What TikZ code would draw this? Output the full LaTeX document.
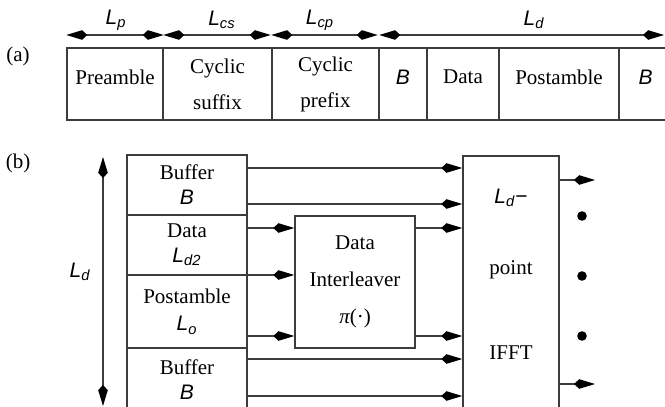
\documentclass[tikz,border=0pt]{standalone}
\usepackage{fontspec}
\setmainfont{Liberation Serif}
\setsansfont{Liberation Sans}
\usetikzlibrary{arrows.meta,positioning}
\definecolor{ink}{HTML}{3C3C3C}
\newcommand{\symlen}[2]{\textsf{\itshape #1\textsubscript{#2}}}
\tikzset{
  txt/.style={font=\fontsize{10.5}{12.4}\selectfont, inner sep=0pt, align=center},
  cellbox/.style={
    txt,
    draw=ink,
    line width=0.7pt,
    minimum height=36pt
  },
  onecell/.style={cellbox, text depth=7pt},
  blockbox/.style={
    txt,
    draw=ink,
    line width=0.7pt,
    minimum width=60pt
  },
  kitetip/.tip={Kite[length=10.5pt,width=4.8pt,inset=2.6pt,color=black]},
  sig/.style={-kitetip, draw=ink, line width=0.7pt},
  dimline/.style={kitetip-kitetip, draw=ink, line width=0.7pt},
  dot/.style={circle, fill=black, inner sep=0pt, minimum size=4.8pt}
}

\begin{document}
\begin{tikzpicture}[x=0.5pt,y=-0.5pt]
  \useasboundingbox (0,0) rectangle (665,407);
  \clip (0,0) rectangle (665,407);

  % (a) frame layout
  \node[txt] (tagA) at (18,56) {(a)};
  \node[onecell, minimum width=48pt]   (pre)  at (115,84)   {Preamble};
  \node[cellbox, minimum width=54.5pt] (csuf) at (217.5,84) {Cyclic\\[5.6pt]suffix};
  \node[cellbox, minimum width=53.5pt] (cpre) at (325.5,84) {Cyclic\\[5.6pt]prefix};
  \node[onecell, minimum width=24pt]   (bufa) at (403,84)   {\textsf{\itshape B}};
  \node[onecell, minimum width=36pt]   (dat)  at (463,84)   {Data};
  \node[onecell, minimum width=60pt]   (post) at (559,84)   {Postamble};
  \node[onecell, minimum width=26.5pt] (bufz) at (645.5,84) {\textsf{\itshape B}};

  \coordinate (ldend) at (664,35);
  \draw[dimline] (pre.west |- 0,35) -- (pre.east |- 0,35);
  \draw[dimline] ([xshift=0.5pt]csuf.west |- 0,35) -- ([xshift=-1pt]csuf.east |- 0,35);
  \draw[dimline] (cpre.west |- 0,35) -- ([xshift=-1pt]cpre.east |- 0,35);
  \draw[dimline] ([xshift=0.5pt]bufa.west |- 0,35) -- (ldend);

  \node[txt] (lp)  at (116,20) {\symlen{L}{p}};
  \node[txt] (lcs) at (222,20) {\symlen{L}{cs}};
  \node[txt] (lcp) at (320,20) {\symlen{L}{cp}};
  \node[txt] (ld)  at (534,20) {\symlen{L}{d}};

  % (b) interleaving and IFFT
  \node[txt] (tagB) at (18,163) {(b)};
  \node[blockbox, minimum height=30pt]   (bbuf1) at (187,185)   {Buffer\\\textsf{\itshape B}};
  \node[blockbox, minimum height=30pt]   (bdata) at (187,245)   {Data\\\symlen{L}{d2}};
  \node[blockbox, minimum height=36.5pt] (bpost) at (187,311.5) {Postamble\\[1.5pt]\symlen{L}{o}};
  \node[blockbox, minimum height=32pt]   (bbuf2) at (187,380)   {Buffer\\\textsf{\itshape B}};

  \node[blockbox, minimum height=66pt] (ilv) at (355,282)
    {Data\\[6pt]Interleaver\\[6pt]{\itshape π}(·)};
  \node[blockbox, minimum width=48pt, minimum height=128pt] (ifft) at (511,284) {};
  \node[txt] (iffta) at (511,198) {\symlen{L}{d}\textsf{−}};
  \node[txt] (ifftb) at (511,270) {point};
  \node[txt] (ifftc) at (511,353) {IFFT};

  \foreach \yy/\src/\dst in {168/bbuf1/ifft, 204/bbuf1/ifft, 228/bdata/ilv,
      275/bdata/ilv, 336/bpost/ilv, 228/ilv/ifft, 336/ilv/ifft,
      359/bbuf2/ifft, 396/bbuf2/ifft}
    \draw[sig] (\src.east |- 0,\yy) -- (\dst.west |- 0,\yy);

  \coordinate (outa) at (595,180);
  \coordinate (outb) at (595,384);
  \draw[sig] (ifft.east |- outa) -- (outa);
  \draw[sig] (ifft.east |- outb) -- (outb);
  \foreach \yy in {216,276,336}
    \node[dot] (dot\yy) at (582,\yy) {};

  \coordinate (vtop) at (103,157);
  \coordinate (vbot) at (103,406);
  \draw[dimline] (vtop) -- (vbot);
  \node[txt] (ldv) at (80,272) {\symlen{L}{d}};
\end{tikzpicture}
\end{document}
